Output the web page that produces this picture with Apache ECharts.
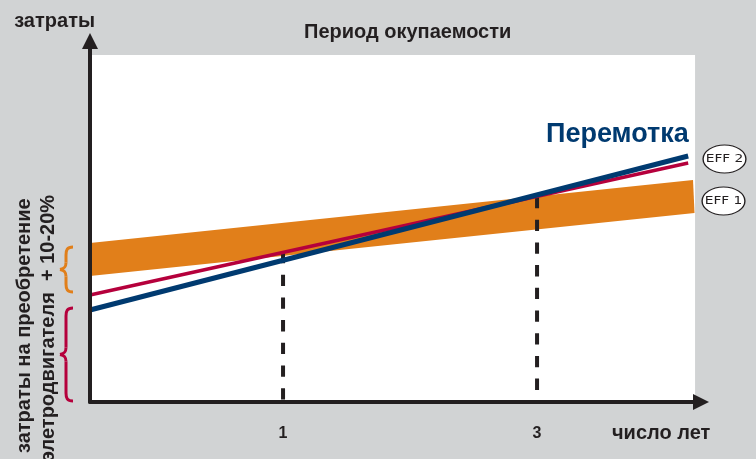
<!DOCTYPE html>
<html><head><meta charset="utf-8">
<style>html,body{margin:0;padding:0;background:#d1d3d4}#c{width:756px;height:459px}</style>
<script src="https://cdn.jsdelivr.net/npm/echarts@6/dist/echarts.min.js"></script>
</head><body><div id="c"></div>
<script>
const yearTicks = [1, 3];
const blueLine = [[-0.52, 92], [4.19, 246]];
const redLine = [[-0.52, 107], [4.19, 239]];
const bandUpper = [[-0.52, 159], [4.228, 222]];
const bandLower = [[-0.52, 126], [4.24, 189]];
const dashedAt1 = [[1, 150], [1, 0]];
const dashedAt3 = [[3, 205], [3, 0]];
const plotRange = { xMin: -0.52, xMax: 4.244, yMin: 0, yMax: 347 };
const FONT = '"Liberation Sans", Arial, sans-serif';
const INK = '#231f20', NAVY = '#003a70', RED = '#b5003c', ORANGE = '#e17f1a';

function dashed(data) {
  return { type: 'line', data, symbol: 'none', z: 2.5, silent: true,
    lineStyle: { color: INK, width: 4, type: [11.3, 11.4] } };
}
function brace(top, bottom, color) {
  const mid = (top + bottom) / 2;
  const xTip = 60, xBar = 66, xEnd = 73;
  const style = { stroke: color, lineWidth: 3, fill: null };
  const curve = (x1, y1, x2, y2, cx1, cy1, cx2, cy2) => ({ type: 'bezierCurve', z: 20, style,
    shape: { x1, y1, x2, y2, cpx1: cx1, cpy1: cy1, cpx2: cx2, cpy2: cy2 } });
  const seg = (y1, y2) => ({ type: 'line', z: 20, style, shape: { x1: xBar, y1, x2: xBar, y2 } });
  return [
    curve(xEnd, top, xBar, top + 8, xBar + 1, top, xBar, top + 3),
    seg(top + 8, mid - 7),
    curve(xBar, mid - 7, xTip, mid, xBar, mid - 3, xBar - 1, mid - 1),
    curve(xTip, mid, xBar, mid + 7, xBar - 1, mid + 1, xBar, mid + 3),
    seg(mid + 7, bottom - 8),
    curve(xBar, bottom - 8, xEnd, bottom, xBar, bottom - 3, xBar + 1, bottom)
  ];
}
function effBadge(cx, cy, label) {
  return [
    { type: 'circle', z: 20, x: cx, y: cy, scaleX: 1.53, shape: { cx: 0, cy: 0, r: 14 }, style: { fill: '#fff', stroke: INK, lineWidth: 0.9 } },
    { type: 'text', z: 21, x: cx, y: cy, scaleX: 1.25, style: { text: label, font: '11px "DejaVu Sans", sans-serif', fill: INK, align: 'center', verticalAlign: 'middle' } }
  ];
}
const chart = echarts.init(document.getElementById('c'), null, { renderer: 'canvas' });
chart.setOption({
  animation: false,
  backgroundColor: '#d1d3d4',
  title: { text: 'Период окупаемости', left: 299, top: 17,
    textStyle: { fontFamily: FONT, fontWeight: 'bold', fontSize: 20, color: INK } },
  grid: { left: 90, right: 56, top: 45, bottom: 57, outerBoundsMode: 'none' },
  xAxis: { type: 'value', min: -0.52, max: 4.283, splitLine: { show: false }, z: 10,
    axisTick: { show: false },
    axisLine: { onZero: false, lineStyle: { color: INK, width: 4 }, symbol: ['none', 'triangle'], symbolSize: [16, 16], symbolOffset: [0, 1] },
    axisLabel: { customValues: yearTicks, margin: 24, fontFamily: FONT, fontWeight: 'bold', fontSize: 16, color: INK },
    name: 'число лет', nameLocation: 'end', nameGap: -88,
    nameTextStyle: { fontFamily: FONT, fontWeight: 'bold', fontSize: 20, color: INK, verticalAlign: 'top', align: 'left', padding: [21, 0, 0, 0] } },
  yAxis: { type: 'value', min: 0, max: 357, splitLine: { show: false }, z: 10,
    axisTick: { show: false }, axisLabel: { show: false },
    axisLine: { onZero: false, lineStyle: { color: INK, width: 4 }, symbol: ['none', 'triangle'], symbolSize: [16, 16], symbolOffset: [0, 4] },
    name: 'затраты', nameLocation: 'end', nameGap: 14,
    nameTextStyle: { fontFamily: FONT, fontWeight: 'bold', fontSize: 20, color: INK, align: 'right', padding: [0, -5, 0, 0] } },
  series: [
    { type: 'custom', z: 2, silent: true, data: [0], clip: false,
      renderItem(params, api) {
        const pts = [bandUpper[0], bandUpper[1], bandLower[1], bandLower[0]].map(p => api.coord(p));
        return { type: 'polygon', shape: { points: pts }, style: { fill: ORANGE } };
      },
      encode: { x: 0, y: 0 },
      markArea: { silent: true, itemStyle: { color: '#ffffff' },
        data: [[{ xAxis: plotRange.xMin, yAxis: plotRange.yMin }, { xAxis: plotRange.xMax, yAxis: plotRange.yMax }]] } },
    { type: 'line', data: redLine, symbol: 'none', z: 3, silent: true, lineStyle: { color: RED, width: 3.5 } },
    { type: 'line', data: blueLine, symbol: 'none', z: 3, silent: true, lineStyle: { color: NAVY, width: 5 } },
    dashed(dashedAt1), dashed(dashedAt3)
  ],
  graphic: [
    { type: 'text', x: 546, y: 121, z: 20, style: { text: 'Перемотка', font: 'bold 27px ' + FONT, fill: NAVY } },
    { type: 'text', x: 34, y: 453, rotation: Math.PI / 2, z: 20,
      style: { text: 'затраты на преобретение', font: 'bold 20px ' + FONT, fill: INK, verticalAlign: 'bottom', align: 'left' } },
    { type: 'text', x: 58, y: 462, rotation: Math.PI / 2, z: 20,
      style: { text: 'элетродвигателя  + 10-20%', font: 'bold 20px ' + FONT, fill: INK, verticalAlign: 'bottom', align: 'left' } },
    ...brace(247, 292, ORANGE),
    ...brace(308, 401, RED),
    ...effBadge(724.5, 159, 'EFF 2'),
    ...effBadge(723.5, 201, 'EFF 1')
  ]
});
</script></body></html>
